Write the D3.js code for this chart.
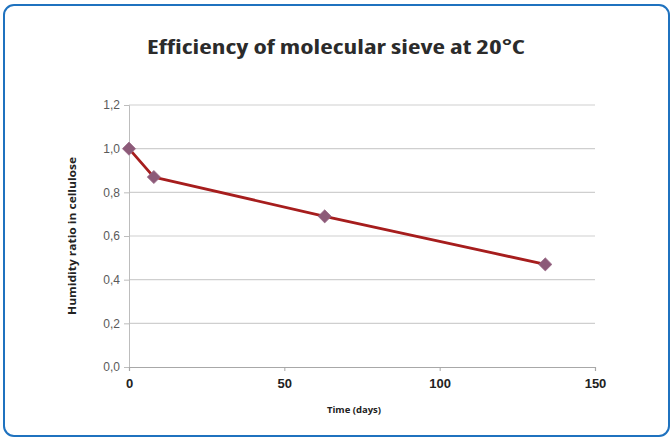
<!DOCTYPE html>
<html>
<head>
<meta charset="utf-8">
<script src="https://cdn.jsdelivr.net/npm/d3@7"></script>
<style>
  body { margin: 0; background: #fff; }
  svg { display: block; font-family: "Open Sans", "Noto Sans", sans-serif; }
</style>
</head>
<body>
<script>
// chart data
var days = [0, 8, 63, 134];
var humidity = [1.0, 0.87, 0.69, 0.47];
var xTicks = [0, 50, 100, 150];
var yTicks = [0, 0.2, 0.4, 0.6, 0.8, 1.0, 1.2];

var w = 672;
var h = 439;

var svg = d3.select("body").append("svg")
    .attr("width", w)
    .attr("height", h);

// card frame
svg.append("rect")
    .attr("x", 4)
    .attr("y", 5)
    .attr("width", 665)
    .attr("height", 431)
    .attr("rx", 10)
    .style("fill", "#fff")
    .style("stroke", "#1f72bf")
    .style("stroke-width", 2);

// title
svg.append("text")
    .attr("x", 336)
    .attr("y", 54)
    .attr("text-anchor", "middle")
    .attr("font-size", "20px")
    .attr("font-weight", "bold")
    .attr("font-stretch", "condensed")
    .attr("textLength", 378)
    .attr("lengthAdjust", "spacingAndGlyphs")
    .style("fill", "#2b2b2b")
    .text("Efficiency of molecular sieve at 20°C");

var x = d3.scaleLinear()
    .domain([0, 150])
    .range([129, 595]);
var y = d3.scaleLinear()
    .domain([0, 1.2])
    .range([367, 105]);

// gridlines
svg.append("g")
    .selectAll("line")
    .data(yTicks.slice(1))
    .enter().append("line")
    .attr("x1", x(0))
    .attr("x2", x(150))
    .attr("y1", d => y(d))
    .attr("y2", d => y(d))
    .style("stroke", "#cfcfcf")
    .style("stroke-width", 1.2);

// y axis
var yAxis = d3.axisLeft(y)
    .tickValues(yTicks)
    .tickSize(5)
    .tickFormat(d => d3.format(".1f")(d).replace(".", ","));
var gY = svg.append("g")
    .attr("transform", "translate(" + x(0) + ",0)")
    .call(yAxis);
gY.select(".domain").style("stroke", "#bdbdbd");
gY.selectAll(".tick line").style("stroke", "#bdbdbd");
gY.selectAll(".tick text")
    .attr("x", -9)
    .attr("font-size", "12px")
    .style("fill", "#5a5a5a");

// x axis
var xAxis = d3.axisBottom(x)
    .tickValues(xTicks)
    .tickSize(4);
var gX = svg.append("g")
    .attr("transform", "translate(0," + y(0) + ")")
    .call(xAxis);
gX.select(".domain").style("stroke", "#a8a8a8").style("stroke-width", 1.2);
gX.selectAll(".tick line").style("stroke", "#a8a8a8");
gX.selectAll(".tick text")
    .attr("y", 12)
    .attr("font-size", "13px")
    .attr("font-weight", "bold")
    .style("fill", "#222");

// axis labels
svg.append("text")
    .attr("x", 354)
    .attr("y", 413)
    .attr("text-anchor", "middle")
    .attr("font-size", "9.5px")
    .attr("font-weight", "bold")
    .style("fill", "#222")
    .text("Time (days)");

svg.append("text")
    .attr("transform", "translate(76," + y(0.6) + ") rotate(-90)")
    .attr("text-anchor", "middle")
    .attr("font-size", "10px")
    .attr("font-weight", "bold")
    .attr("textLength", 158)
    .attr("lengthAdjust", "spacingAndGlyphs")
    .style("fill", "#222")
    .text("Humidity ratio in cellulose");

// series
var pts = days.map((d, i) => [d, humidity[i]]);
var line = d3.line()
    .x(d => x(d[0]))
    .y(d => y(d[1]));

svg.append("path")
    .datum(pts)
    .attr("d", line)
    .style("fill", "none")
    .style("stroke", "#a61d1d")
    .style("stroke-width", 2.8)
    .style("stroke-linejoin", "round");

svg.append("g")
    .selectAll("path")
    .data(pts)
    .enter().append("path")
    .attr("d", d3.symbol().type(d3.symbolDiamond2).size(110))
    .attr("transform", d => "translate(" + x(d[0]) + "," + y(d[1]) + ")")
    .style("fill", "#8c5a78")
    .style("stroke", "#9a6a88")
    .style("stroke-width", 0.8);
</script>
</body>
</html>
